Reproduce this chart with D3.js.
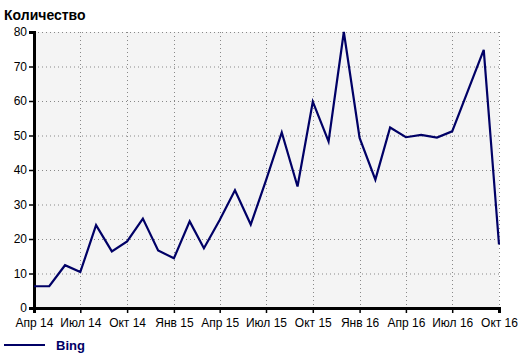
<!DOCTYPE html>
<html>
<head>
<meta charset="utf-8">
<script src="https://cdn.jsdelivr.net/npm/d3@7"></script>
<style>
  body { margin: 0; background: #fff; }
  text { font-family: "Liberation Sans", Arial, sans-serif; }
</style>
</head>
<body>
<div id="chart"></div>
<script>
var svgWidth = 521;
var svgHeight = 355;

var margin = { top: 32, right: 22, bottom: 47, left: 34 };
var width = svgWidth - margin.left - margin.right;
var height = svgHeight - margin.top - margin.bottom;

// monthly data, Apr 2014 .. Oct 2016
var months = [
  "2014-04", "2014-05", "2014-06", "2014-07", "2014-08", "2014-09", "2014-10", "2014-11", "2014-12",
  "2015-01", "2015-02", "2015-03", "2015-04", "2015-05", "2015-06", "2015-07", "2015-08", "2015-09",
  "2015-10", "2015-11", "2015-12", "2016-01", "2016-02", "2016-03", "2016-04", "2016-05", "2016-06",
  "2016-07", "2016-08", "2016-09", "2016-10"
];
var bing = [
  6.3, 6.3, 12.4, 10.4, 24, 16.4, 19.3, 25.9, 16.7,
  14.4, 25.1, 17.3, 25.5, 34.1, 24.2, 37, 50.9, 35.2,
  59.8, 48.3, 80, 49.3, 37.2, 52.3, 49.5, 50.2, 49.4,
  51.2, 63, 74.8, 18.4
];
var tickMonths = ["2014-04", "2014-07", "2014-10", "2015-01", "2015-04", "2015-07",
  "2015-10", "2016-01", "2016-04", "2016-07", "2016-10"];
var tickLabels = ["Апр 14", "Июл 14", "Окт 14", "Янв 15", "Апр 15", "Июл 15",
  "Окт 15", "Янв 16", "Апр 16", "Июл 16", "Окт 16"];
var yTicks = [0, 10, 20, 30, 40, 50, 60, 70, 80];

var parse = d3.timeParse("%Y-%m");
var data = months.map((m, i) => ({ date: parse(m), value: bing[i] }));

var svg = d3
  .select("#chart")
  .append("svg")
  .attr("width", svgWidth)
  .attr("height", svgHeight);

var chartGroup = svg
  .append("g")
  .attr("transform", `translate(${margin.left}, ${margin.top})`);

var xScale = d3
  .scaleTime()
  .domain(d3.extent(data, (d) => d.date))
  .range([0, width]);

var yScale = d3.scaleLinear().domain([0, 80]).range([height, 0]);

// plot background
chartGroup
  .append("rect")
  .attr("width", width)
  .attr("height", height)
  .attr("fill", "#f4f4f4");

// grid lines
chartGroup
  .append("g")
  .selectAll("line")
  .data(yTicks.slice(1))
  .enter()
  .append("line")
  .attr("x1", 0)
  .attr("x2", width)
  .attr("y1", (d) => yScale(d) + 0.5)
  .attr("y2", (d) => yScale(d) + 0.5)
  .attr("stroke", "#888")
  .attr("stroke-dasharray", "1,3");

chartGroup
  .append("g")
  .selectAll("line")
  .data(tickMonths.slice(1))
  .enter()
  .append("line")
  .attr("x1", (d) => Math.round(xScale(parse(d))) + 0.5)
  .attr("x2", (d) => Math.round(xScale(parse(d))) + 0.5)
  .attr("y1", 0)
  .attr("y2", height)
  .attr("stroke", "#888")
  .attr("stroke-dasharray", "1,3");

// axes
var bottomAxis = d3
  .axisBottom(xScale)
  .tickValues(tickMonths.map(parse))
  .tickFormat((d, i) => tickLabels[i])
  .tickSize(5)
  .tickPadding(5);
var leftAxis = d3.axisLeft(yScale).tickValues(yTicks).tickSize(5).tickPadding(2);

var xAxis = chartGroup
  .append("g")
  .attr("transform", `translate(0, ${height})`)
  .call(bottomAxis);
var yAxis = chartGroup.append("g").call(leftAxis);

[xAxis, yAxis].forEach((ax) => {
  ax.select(".domain").attr("stroke", "#000").attr("stroke-width", 3);
  ax.selectAll(".tick line").attr("stroke", "#000").attr("stroke-width", 1.5);
  ax.selectAll(".tick text")
    .attr("fill", "#000")
    .style("font-size", "12px")
    .style("font-family", "'Liberation Sans', Arial, sans-serif");
});

// the line
var line = d3
  .line()
  .x((d) => xScale(d.date))
  .y((d) => yScale(d.value));

chartGroup
  .append("path")
  .datum(data)
  .attr("fill", "none")
  .attr("stroke", "#000066")
  .attr("stroke-width", 2.2)
  .attr("stroke-linejoin", "miter")
  .attr("d", line);

// title
svg
  .append("text")
  .attr("x", 4)
  .attr("y", 20)
  .style("font-size", "14px")
  .style("font-weight", "bold")
  .attr("fill", "#000")
  .text("Количество");

// legend
svg
  .append("line")
  .attr("x1", 4)
  .attr("x2", 45)
  .attr("y1", 345)
  .attr("y2", 345)
  .attr("stroke", "#000066")
  .attr("stroke-width", 2.2);

svg
  .append("text")
  .attr("x", 56)
  .attr("y", 350)
  .style("font-size", "13px")
  .style("font-weight", "bold")
  .attr("fill", "#000066")
  .text("Bing");
</script>
</body>
</html>
